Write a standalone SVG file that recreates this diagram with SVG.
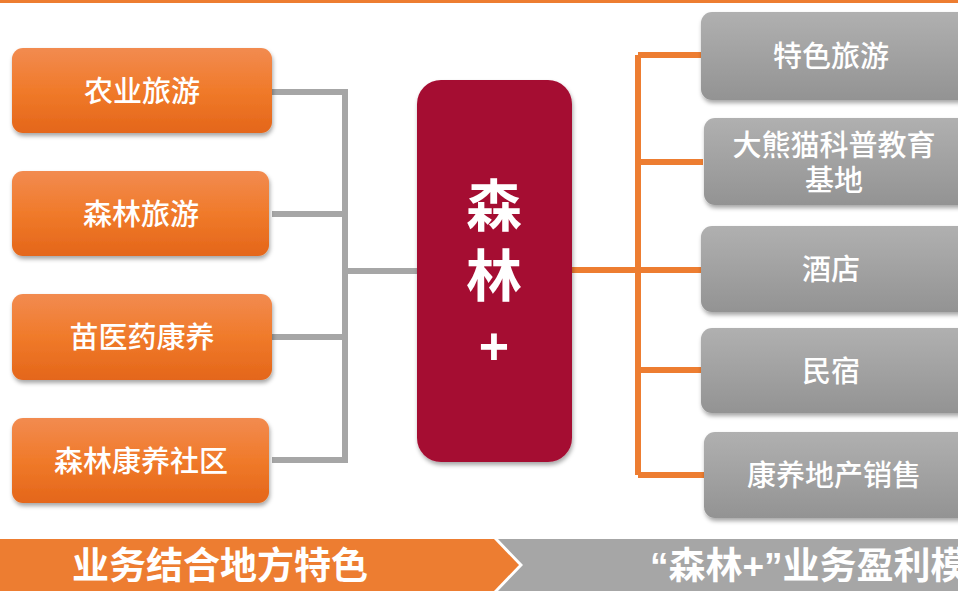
<svg xmlns="http://www.w3.org/2000/svg" width="958" height="591" viewBox="0 0 958 591">
<defs>
<linearGradient id="gO" x1="0" y1="0" x2="0" y2="1"><stop offset="0" stop-color="#F28B50"/><stop offset="0.5" stop-color="#F07A2A"/><stop offset="1" stop-color="#E4661A"/></linearGradient>
<linearGradient id="gG" x1="0" y1="0" x2="0" y2="1"><stop offset="0" stop-color="#B0B0B0"/><stop offset="1" stop-color="#939393"/></linearGradient>
<filter id="sh" x="-10%" y="-10%" width="120%" height="130%"><feDropShadow dx="1" dy="3" stdDeviation="2" flood-color="#000" flood-opacity="0.35"/></filter>
</defs>
<style>
.lb{fill:url(#gO);filter:url(#sh)}
.rb{fill:url(#gG);filter:url(#sh)}
.t{font-family:"Liberation Sans","Noto Sans CJK SC",sans-serif;fill:#fff;text-anchor:middle;font-size:29px;font-weight:500}
.gc{stroke:#A6A6A6;stroke-width:6;fill:none}
.oc{stroke:#ED7D31;stroke-width:6;fill:none}
.bt{font-family:"Liberation Sans","Noto Sans CJK SC",sans-serif;fill:#fff;font-size:37px;font-weight:bold}
</style>
<rect width="958" height="591" fill="#fff"/>
<rect x="0" y="0" width="958" height="3" fill="#ED7D31"/>
<g id="connectors">
<path class="gc" d="M272 92H345V460H272M272 214H345M272 337H345M345 271H417"/>
<path class="oc" d="M572 270H638M638 55V475M638 55H702M638 162H703M638 270H702M638 370H702M638 475H704"/>
</g>
<g id="n1"><rect class="lb" x="12" y="48" width="260" height="85" rx="11"/><text class="t" x="142" y="102">农业旅游</text></g>
<g id="n2"><rect class="lb" x="12" y="171" width="257" height="85" rx="11"/><text class="t" x="141" y="225">森林旅游</text></g>
<g id="n3"><rect class="lb" x="12" y="294" width="260" height="86" rx="11"/><text class="t" x="142" y="348">苗医药康养</text></g>
<g id="n4"><rect class="lb" x="12" y="418" width="257" height="85" rx="11"/><text class="t" x="141" y="472">森林康养社区</text></g>
<g id="center"><rect x="417" y="80" width="155" height="382" rx="24" fill="#A50D33" filter="url(#sh)"/>
<text class="t" x="494" y="226" style="font-size:56px;font-weight:bold">森</text>
<text class="t" x="494" y="296" style="font-size:56px;font-weight:bold">林</text>
<text class="t" x="494" y="364" style="font-size:52px;font-weight:bold">+</text></g>
<g id="r1"><rect class="rb" x="701" y="12" width="270" height="88" rx="11"/><text class="t" x="831" y="67">特色旅游</text></g>
<g id="r2"><rect class="rb" x="704" y="118" width="267" height="87" rx="11"/><text class="t" x="834" y="156">大熊猫科普教育</text><text class="t" x="834" y="191">基地</text></g>
<g id="r3"><rect class="rb" x="701" y="226" width="270" height="86" rx="11"/><text class="t" x="831" y="280">酒店</text></g>
<g id="r4"><rect class="rb" x="701" y="328" width="270" height="85" rx="11"/><text class="t" x="831" y="382">民宿</text></g>
<g id="r5"><rect class="rb" x="704" y="432" width="267" height="86" rx="11"/><text class="t" x="834" y="486">康养地产销售</text></g>
<g id="banner">
<polygon points="0,539 494,539 519,565 494,591 0,591" fill="#ED7D31"/>
<polygon points="498,539 958,539 958,591 498,591 523,565" fill="#A6A6A6"/>
<text class="bt" x="72" y="579">业务结合地方特色</text>
<text class="bt" x="650" y="579">“森林+”业务盈利模式</text>
</g>
</svg>
